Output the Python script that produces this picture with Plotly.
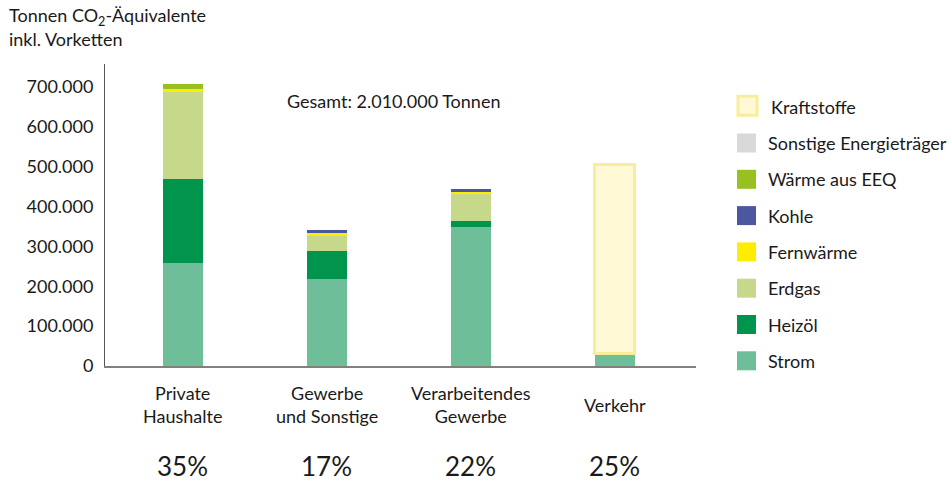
import plotly.graph_objects as go

# ---------------- data ----------------
categories = ["Private<br>Haushalte", "Gewerbe<br>und Sonstige", "Verarbeitendes<br>Gewerbe", "Verkehr"]
shares = ["35%", "17%", "22%", "25%"]

series_names = ["Strom", "Heizöl", "Erdgas", "Fernwärme", "Kohle",
                "Wärme aus EEQ", "Sonstige Energieträger", "Kraftstoffe"]
strom = [257000, 219000, 349000, 31000]
heizoel = [211000, 70000, 15000, 0]
erdgas = [219000, 38000, 66000, 0]
fernwaerme = [8000, 7000, 7000, 0]
kohle = [0, 7500, 7500, 0]
waerme_eeq = [12000, 0, 0, 0]
sonstige = [0, 0, 0, 0]
kraftstoffe = [0, 0, 0, 475000]
series_values = [strom, heizoel, erdgas, fernwaerme, kohle, waerme_eeq, sonstige, kraftstoffe]

series_colors = ["#6DBE99", "#00944C", "#C6D98A", "#FFED00", "#4D57A0",
                 "#96C11F", "#D9D9D9", "#FFF9D6"]
series_lines = [None, None, None, None, None, None, None, "#F8EE9A"]

y_tickvals = [0, 100000, 200000, 300000, 400000, 500000, 600000, 700000]
y_ticktext = ["0", "100.000", "200.000", "300.000", "400.000", "500.000", "600.000", "700.000"]

total_label = "Gesamt: 2.010.000 Tonnen"

# ---------------- layout helpers ----------------
W, H = 952, 482
L, R, T, B = 105, 696, 64, 366


def px(x):
    return (x - L) / (R - L)


def py(y):
    return (B - y) / (B - T)


FONT = "Lato, 'Open Sans', sans-serif"
TXT = "#1a1a1a"
FS = 18

fig = go.Figure()
xs = list(range(len(categories)))
for name, vals, col, lc in zip(series_names, series_values, series_colors, series_lines):
    plot_vals = [v if v else None for v in vals]
    fig.add_trace(go.Bar(
        x=xs, y=plot_vals, name=name, width=0.278,
        marker=dict(color=col, line=dict(color=lc if lc else col, width=3 if lc else 0)),
        showlegend=False, hoverinfo="name+y",
    ))

annotations = []
# category labels and shares
for i, (c, s) in enumerate(zip(categories, shares)):
    annotations.append(dict(x=i, xref="x", y=py(405), yref="paper", text=c, showarrow=False,
                            xanchor="center", yanchor="middle",
                            font=dict(family=FONT, size=FS, color=TXT)))
    annotations.append(dict(x=i, xref="x", y=py(466), yref="paper", text=s, showarrow=False,
                            xanchor="center", yanchor="middle",
                            font=dict(family=FONT, size=26, color=TXT)))

# title
annotations.append(dict(x=px(7), xref="paper", y=py(17), yref="paper",
                        text="Tonnen CO<sub>2</sub>-Äquivalente", showarrow=False,
                        xanchor="left", yanchor="middle", font=dict(family=FONT, size=FS, color=TXT)))
annotations.append(dict(x=px(7), xref="paper", y=py(39), yref="paper",
                        text="inkl. Vorketten", showarrow=False,
                        xanchor="left", yanchor="middle", font=dict(family=FONT, size=FS, color=TXT)))

# total
annotations.append(dict(x=px(393), xref="paper", y=py(101), yref="paper",
                        text=total_label, showarrow=False,
                        xanchor="center", yanchor="middle", font=dict(family=FONT, size=FS, color=TXT)))

# manual legend (reversed order)
shapes = []
row0, step = 106.7, 36.3
for k, idx in enumerate(reversed(range(len(series_names)))):
    yc = row0 + k * step
    lc = series_lines[idx]
    shapes.append(dict(type="rect", xref="paper", yref="paper",
                       x0=px(737 + (1 if lc else 0)), x1=px(756 + (1 if lc else 0)),
                       y0=py(yc + 9.5 - (1 if lc else 0)), y1=py(yc - 9.5 - (1 if lc else 0)),
                       fillcolor=series_colors[idx],
                       line=dict(color=lc if lc else series_colors[idx], width=3 if lc else 0)))
    annotations.append(dict(x=px(766 + (3 if lc else 0)), xref="paper", y=py(yc), yref="paper",
                            text=series_names[idx], showarrow=False,
                            xanchor="left", yanchor="middle",
                            font=dict(family=FONT, size=FS, color=TXT)))

fig.update_layout(
    width=W, height=H,
    margin=dict(l=L, r=W - R, t=T, b=H - B, pad=0),
    paper_bgcolor="white", plot_bgcolor="white",
    barmode="stack",
    showlegend=False,
    annotations=annotations,
    shapes=shapes,
    xaxis=dict(range=[-0.54, 3.5625], showticklabels=False, ticks="", showgrid=False,
               zeroline=False, showline=True, linecolor="#808080", linewidth=2,
               fixedrange=True),
    yaxis=dict(range=[0, 757000], tickvals=y_tickvals, ticktext=y_ticktext,
               showgrid=False, zeroline=False, showline=True, linecolor="#555555",
               linewidth=1, ticks="", ticklabelstandoff=7,
               tickfont=dict(family=FONT, size=FS, color=TXT), fixedrange=True),
)

fig.write_html("out.html", config={"displayModeBar": False},
               post_script="document.body.style.margin='0';document.body.style.padding='0';")
